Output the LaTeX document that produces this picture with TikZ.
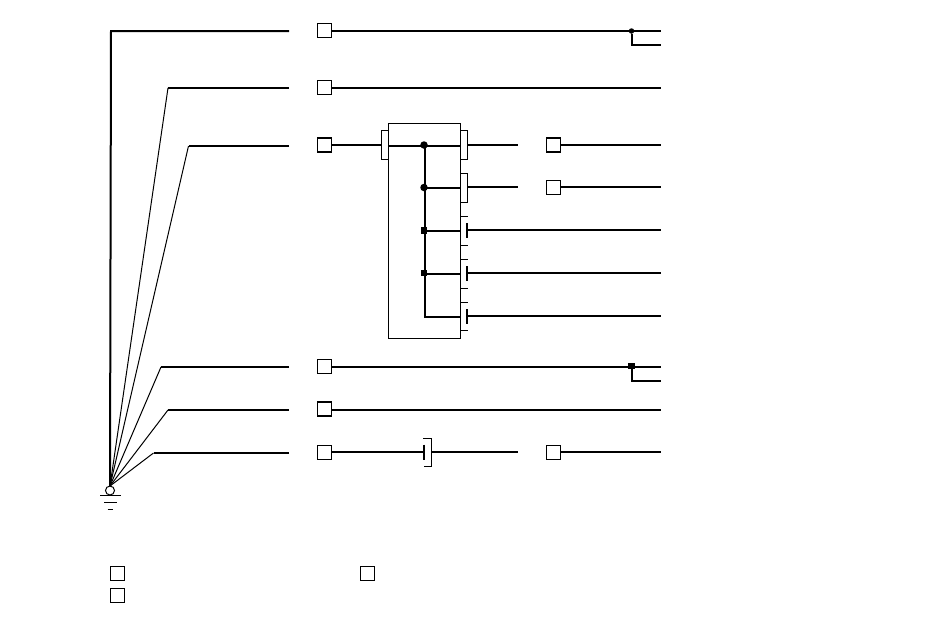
\documentclass[tikz,border=0pt]{standalone}
\tikzset{
  unitbox/.style={draw=black,fill=white,line width=1.1pt,minimum size=14pt,inner sep=0pt,outer sep=0pt,shape=rectangle},
  heavy/.style={draw=black,line width=2pt},
  fine/.style={draw=black,line width=1pt},
  dotmark/.style={fill=black,circle,minimum size=7.5pt,inner sep=0pt,outer sep=0pt},
  squaremark/.style={fill=black,rectangle,minimum size=6.5pt,inner sep=0pt,outer sep=0pt},
  smallmark/.style={fill=black,circle,minimum size=5.5pt,inner sep=0pt,outer sep=0pt},
  earth/.style={draw=black,fill=white,circle,line width=1pt,minimum size=9pt,inner sep=0pt,outer sep=0pt},
  panel/.style={draw=black,line width=1pt,fill=white,rectangle,inner sep=0pt,outer sep=0pt,anchor=north west}
}
\begin{document}
\begin{tikzpicture}[x=1pt,y=-1pt]
\useasboundingbox (0,0) rectangle (950,633);
% panel
\node[panel,minimum width=72pt,minimum height=215pt] (panel) at (388.3,123.3) {};
% boxes
\node[unitbox] (b1) at (324.5,30.5) {};
\node[unitbox] (b2) at (324.5,87.5) {};
\node[unitbox] (b3) at (324.5,145) {};
\node[unitbox] (b4) at (324.5,366.5) {};
\node[unitbox] (b5) at (324.5,409) {};
\node[unitbox] (b6) at (324.5,452.5) {};
\node[unitbox] (c1) at (553.5,145) {};
\node[unitbox] (c2) at (553.5,187.5) {};
\node[unitbox] (c3) at (553.5,452.5) {};
\node[unitbox] (l1) at (117.5,573.5) {};
\node[unitbox] (l2) at (367.5,573.5) {};
\node[unitbox] (l3) at (117.5,595.5) {};
% earth
\node[earth] (gnd) at (110,490.5) {};
\draw[fine] (100,495) -- (121,495);
\draw[fine] (104,502) -- (117,502);
\draw[fine] (107.5,509) -- (113,509);
% feeder ends
\coordinate (f1) at (289,31);
\coordinate (f2) at (289,88);
\coordinate (f3) at (289,146);
\coordinate (f4) at (289,367);
\coordinate (f5) at (289,410);
\coordinate (f6) at (289,453);
\coordinate (k1) at (111,31);
\coordinate (k2) at (168,88);
\coordinate (k3) at (188.5,146);
\coordinate (k4) at (161,367);
\coordinate (k5) at (168,410);
\coordinate (k6) at (153.5,453);
\draw[heavy] (f1) -- (k1) -- (gnd.north);
\draw[heavy] (f2) -- (k2);
\draw[heavy] (f3) -- (k3);
\draw[heavy] (f4) -- (k4);
\draw[heavy] (f5) -- (k5);
\draw[heavy] (f6) -- (k6);
\foreach \k in {k2,k3,k4,k5,k6} \draw[fine] (\k) -- (gnd.north);
% right ends
\coordinate (e1) at (661,31);
\coordinate (e1b) at (661,45);
\coordinate (e2) at (661,88);
\coordinate (e3) at (661,145);
\coordinate (e4) at (661,187);
\coordinate (e5) at (661,230);
\coordinate (e6) at (661,273);
\coordinate (e7) at (661,316);
\coordinate (e8) at (661,367);
\coordinate (e8b) at (661,380.5);
\coordinate (e9) at (661,410);
\coordinate (e10) at (661,452);
% top feeder with branch
\node[smallmark] (j1) at (631.5,31) {};
\draw[heavy] (b1.east |- e1) -- (e1);
\draw[heavy] (j1) |- (e1b);
\draw[heavy] (b2.east |- e2) -- (e2);
% lower feeder with branch
\node[squaremark] (j2) at (631.5,366) {};
\draw[heavy] (b4.east |- e8) -- (e8);
\draw[heavy] (j2) |- (e8b);
\draw[heavy] (b5.east |- e9) -- (e9);
% bottom switch
\coordinate (sw) at (424,452);
\coordinate (swr) at (431.5,452);
\coordinate (o6) at (518,452);
\draw[heavy] (b6.east |- sw) -- (sw);
\draw[heavy] (424.3,444.5) -- (424.3,460);
\draw[fine] (423,438.5) -- (431.5,438.5) -- (431.5,466.5) -- (424,466.5);
\draw[heavy] (swr) -- (o6);
\draw[heavy] (c3.east |- e10) -- (e10);
% panel inputs and breakers
\coordinate (a1) at (381.5,145);
\coordinate (o1) at (518,145);
\coordinate (o2) at (518,187);
\draw[heavy] (b3.east |- a1) -- (a1);
\draw[fine] (388.3,130.5) -- (381.5,130.5) -- (381.5,159.5) -- (388.3,159.5);
\draw[fine] (460.3,130.5) -- (467.5,130.5) -- (467.5,159.5) -- (460.3,159.5);
\draw[fine] (460.3,173.7) -- (467.5,173.7) -- (467.5,202.3) -- (460.3,202.3);
\draw[heavy] (388.3,146) -- (460.3,146);
\draw[heavy] (467.5,145) -- (o1);
\draw[heavy] (424.8,187.8) -- (460.3,187.8);
\draw[heavy] (467.5,187) -- (o2);
\draw[heavy] (c1.east |- e3) -- (e3);
\draw[heavy] (c2.east |- e4) -- (e4);
% busbar
\node[dotmark] (n1) at (424,145) {};
\node[dotmark] (n2) at (424,187.5) {};
\node[squaremark] (n3) at (424,230.5) {};
\node[squaremark] (n4) at (424,273) {};
\coordinate (n5) at (424.8,316.5);
\draw[heavy] (424.8,145) -- (n5) -- (460.3,316.5);
\draw[heavy] (424.8,230.8) -- (460.3,230.8);
\draw[heavy] (424.8,273.8) -- (460.3,273.8);
% lower breakers
\foreach \t/\b in {216.5/245.5,259.5/288.5,302.5/330.5}{
  \draw[fine] (460.3,\t) -- (468,\t);
  \draw[fine] (460.3,\b) -- (468,\b);
}
\draw[heavy] (467,223) -- (467,237.5);
\draw[heavy] (467,266) -- (467,281);
\draw[heavy] (467,309) -- (467,324);
\draw[heavy] (467,230) -- (e5);
\draw[heavy] (467,273) -- (e6);
\draw[heavy] (467,316) -- (e7);
\end{tikzpicture}
\end{document}
